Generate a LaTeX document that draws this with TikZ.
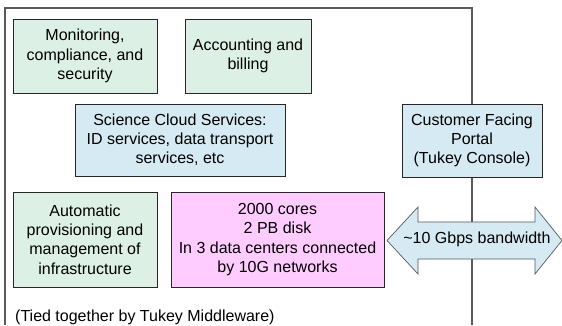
\documentclass[tikz,border=0pt]{standalone}
\usepackage{fontspec}
\setmainfont{Liberation Sans}
\definecolor{mint}{HTML}{DDF0E6}
\definecolor{paleblue}{HTML}{D5EAF2}
\definecolor{pink}{HTML}{FFCCFF}
\definecolor{framegray}{HTML}{5A5A5A}
\begin{document}
\begin{tikzpicture}[x=1pt,y=-1pt,
  box/.style={draw=black!85, line width=0.8pt, align=center, inner sep=2pt,
    font=\fontsize{16}{19.2}\selectfont},
  lbl/.style={font=\fontsize{16}{19.2}\selectfont, inner sep=0pt},
  frame/.style={draw=framegray, line width=1.2pt}]
\useasboundingbox (0,0) rectangle (562,325);
% frame
\coordinate (fbl) at (5,325);
\coordinate (ftl) at (5,8);
\coordinate (ftr) at (472,8);
\coordinate (fbr) at (472,325);
\draw[frame] (fbl) -- (ftl) -- (ftr) -- (fbr);
% boxes
\node[box, fill=mint, minimum width=144pt, minimum height=74pt] (mon) at (85,56)
  {Monitoring,\\compliance, and\\security};
\node[box, fill=mint, minimum width=126pt, minimum height=74pt] (acc) at (248,56)
  {Accounting and\\billing};
\node[box, fill=paleblue, minimum width=210pt, minimum height=72pt] (scs) at (180,140)
  {Science Cloud Services:\\ID services, data transport\\services, etc};
\node[box, fill=paleblue, minimum width=140pt, minimum height=73pt] (portal) at (472,140.5)
  {Customer Facing\\Portal\\(Tukey Console)};
\node[box, fill=mint, minimum width=144pt, minimum height=95pt] (auto) at (85,239.5)
  {Automatic\\provisioning and\\management of\\infrastructure};
\node[box, fill=pink, minimum width=213pt, minimum height=95pt] (cores) at (277.5,239.5)
  {2000 cores\\2 PB disk\\In 3 data centers connected\\by 10G networks};
% double arrow
\coordinate (al) at (387,240.5);
\coordinate (ar) at (562,240.5);
\fill[paleblue] (al) -- (418,207) -- (418,222) -- (535,222) -- (535,207) -- (ar)
  -- (535,274) -- (535,259) -- (418,259) -- (418,274) -- cycle;
\draw[gray!70!black, line width=0.7pt] (al) -- (418,207) -- (418,222) -- (535,222) -- (535,207) -- (ar)
  -- (535,274) -- (535,259) -- (418,259) -- (418,274) -- cycle;
\node[lbl] (bw) at (477,239.5) {\textasciitilde10 Gbps bandwidth};
% caption
\node[lbl, anchor=west] (tied) at (15,317) {(Tied together by Tukey Middleware)};
\end{tikzpicture}
\end{document}
